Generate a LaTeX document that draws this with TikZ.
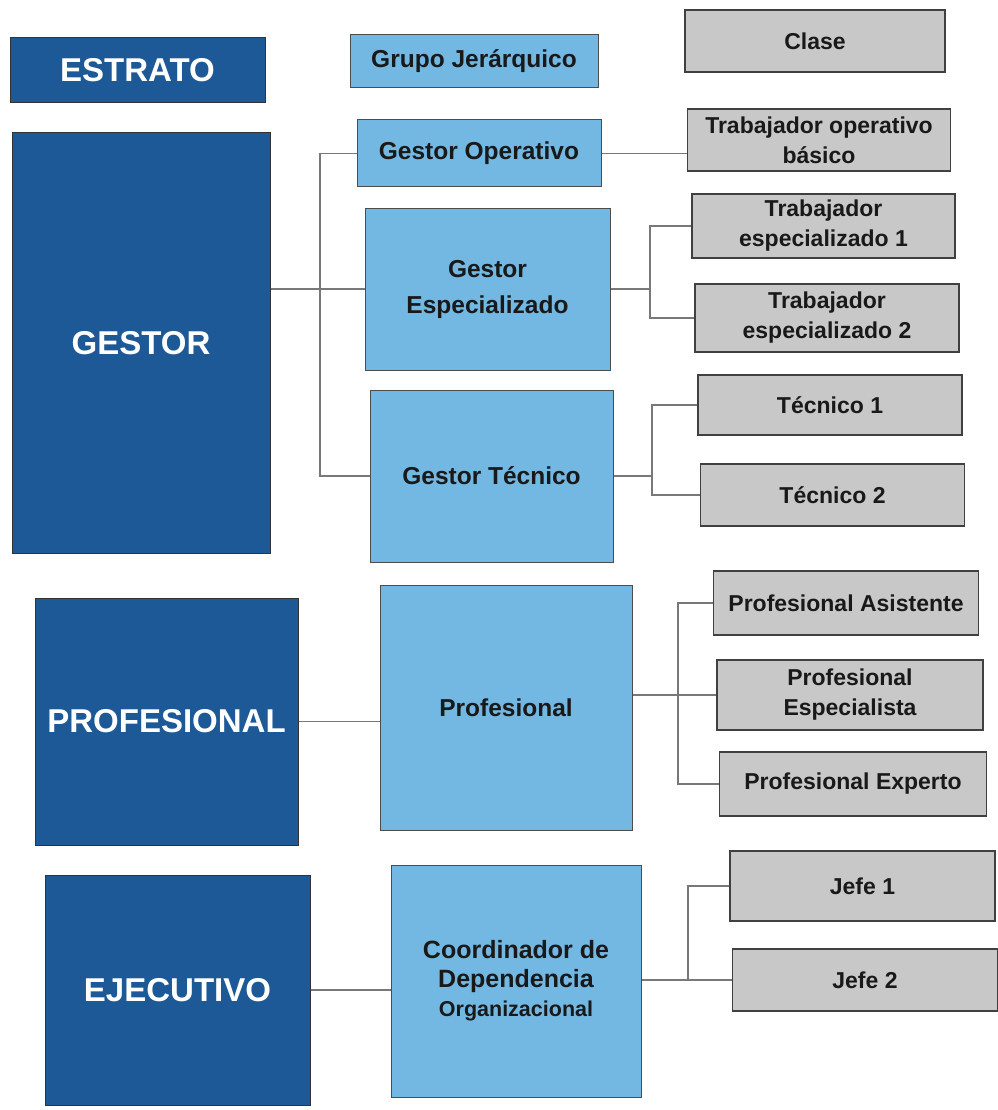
\documentclass[tikz,border=0pt]{standalone}
\usepackage{fontspec}
\setmainfont{Liberation Sans}
\definecolor{dkblue}{RGB}{28,89,150}
\definecolor{ltblue}{RGB}{114,184,226}
\definecolor{clgray}{RGB}{200,200,200}
\definecolor{conncol}{RGB}{120,120,120}
\tikzset{
 estbox/.style={draw=black!80, line width=1pt, fill=dkblue, text=white, font=\bfseries\fontsize{33}{38}\selectfont, inner sep=0pt, align=center},
 grpbox/.style={draw=black!70, line width=1pt, fill=ltblue, text=black!90, font=\bfseries\fontsize{24.5}{36}\selectfont, inner sep=0pt, align=center},
 clsbox/.style={draw=black!75, line width=1.5pt, fill=clgray, text=black!90, font=\bfseries\fontsize{23}{30}\selectfont, inner sep=0pt, align=center},
 conn/.style={draw=conncol, line width=1.2pt},
}
\begin{document}
\begin{tikzpicture}[x=1pt,y=-1pt]
\useasboundingbox (0,0) rectangle (997,1110);
% headers
\node[estbox, minimum width=255pt, minimum height=65pt] (estrato) at (137.5,70.5) {ESTRATO};
\node[grpbox, minimum width=248pt, minimum height=53pt] (grupo) at (474,61.5) {Grupo Jerárquico};
\node[clsbox, minimum width=260pt, minimum height=62pt] (clase) at (815,41) {Clase};
% gestor
\node[estbox, minimum width=258pt, minimum height=420pt] (gestor) at (141,343) {GESTOR};
\node[grpbox, minimum width=244pt, minimum height=67pt] (gop) at (479,153.5) {Gestor Operativo};
\node[grpbox, minimum width=245pt, minimum height=162pt] (gesp) at (487.5,289) {Gestor\\Especializado};
\node[grpbox, minimum width=243pt, minimum height=172pt] (gtec) at (491.5,476) {Gestor Técnico};
\node[clsbox, minimum width=263pt, minimum height=62pt] (tob) at (819,140) {Trabajador operativo\\básico};
\node[clsbox, minimum width=263pt, minimum height=64pt] (te1) at (823.5,226) {Trabajador\\especializado 1};
\node[clsbox, minimum width=264pt, minimum height=68pt] (te2) at (827,318) {Trabajador\\especializado 2};
\node[clsbox, minimum width=264pt, minimum height=60pt] (tec1) at (830,405) {Técnico 1};
\node[clsbox, minimum width=264pt, minimum height=62pt] (tec2) at (832.5,495) {Técnico 2};
% profesional
\node[estbox, minimum width=263pt, minimum height=247pt] (profesional) at (166.5,721.5) {PROFESIONAL};
\node[grpbox, minimum width=252pt, minimum height=245pt] (prof) at (506,707.5) {Profesional};
\node[clsbox, minimum width=265pt, minimum height=64pt] (pa) at (846,603) {Profesional Asistente};
\node[clsbox, minimum width=266pt, minimum height=70pt] (pe) at (850,695) {Profesional\\Especialista};
\node[clsbox, minimum width=267pt, minimum height=64pt] (pex) at (853,784) {Profesional Experto};
% ejecutivo
\node[estbox, minimum width=265pt, minimum height=230pt] (ejecutivo) at (177.5,990) {EJECUTIVO};
\node[grpbox, minimum width=250pt, minimum height=232pt, font=\bfseries\fontsize{25}{29}\selectfont] (coord) at (516,981) {Coordinador de\\Dependencia\\\fontsize{21.5}{25}\selectfont Organizacional};
\node[clsbox, minimum width=265pt, minimum height=70pt] (jefe1) at (862.5,886) {Jefe 1};
\node[clsbox, minimum width=265pt, minimum height=62pt] (jefe2) at (865,980) {Jefe 2};
% connectors
\coordinate (bus1) at (320,0);
\draw[conn] (gop.west) -- (bus1 |- gop.west) -- (bus1 |- gtec.west) -- (gtec.west);
\draw[conn] (gestor.east |- gesp.west) -- (gesp.west);
\draw[conn] (gop.east) -- (tob.west |- gop.east);
\coordinate (bus2) at (650,0);
\draw[conn] (te1.west) -- (bus2 |- te1.west) -- (bus2 |- te2.west) -- (te2.west);
\draw[conn] (gesp.east) -- (bus2 |- gesp.east);
\coordinate (bus3) at (652,0);
\draw[conn] (tec1.west) -- (bus3 |- tec1.west) -- (bus3 |- tec2.west) -- (tec2.west);
\draw[conn] (gtec.east) -- (bus3 |- gtec.east);
\draw[conn] (profesional.east) -- (prof.west |- profesional.east);
\coordinate (bus4) at (678,0);
\draw[conn] (pa.west) -- (bus4 |- pa.west) -- (bus4 |- pex.west) -- (pex.west);
\draw[conn] (prof.east |- pe.west) -- (pe.west);
\draw[conn] (ejecutivo.east) -- (coord.west |- ejecutivo.east);
\coordinate (bus5) at (688,0);
\draw[conn] (coord.east |- jefe2.west) -- (jefe2.west);
\draw[conn] (jefe1.west) -- (bus5 |- jefe1.west) -- (bus5 |- jefe2.west);
\end{tikzpicture}
\end{document}
